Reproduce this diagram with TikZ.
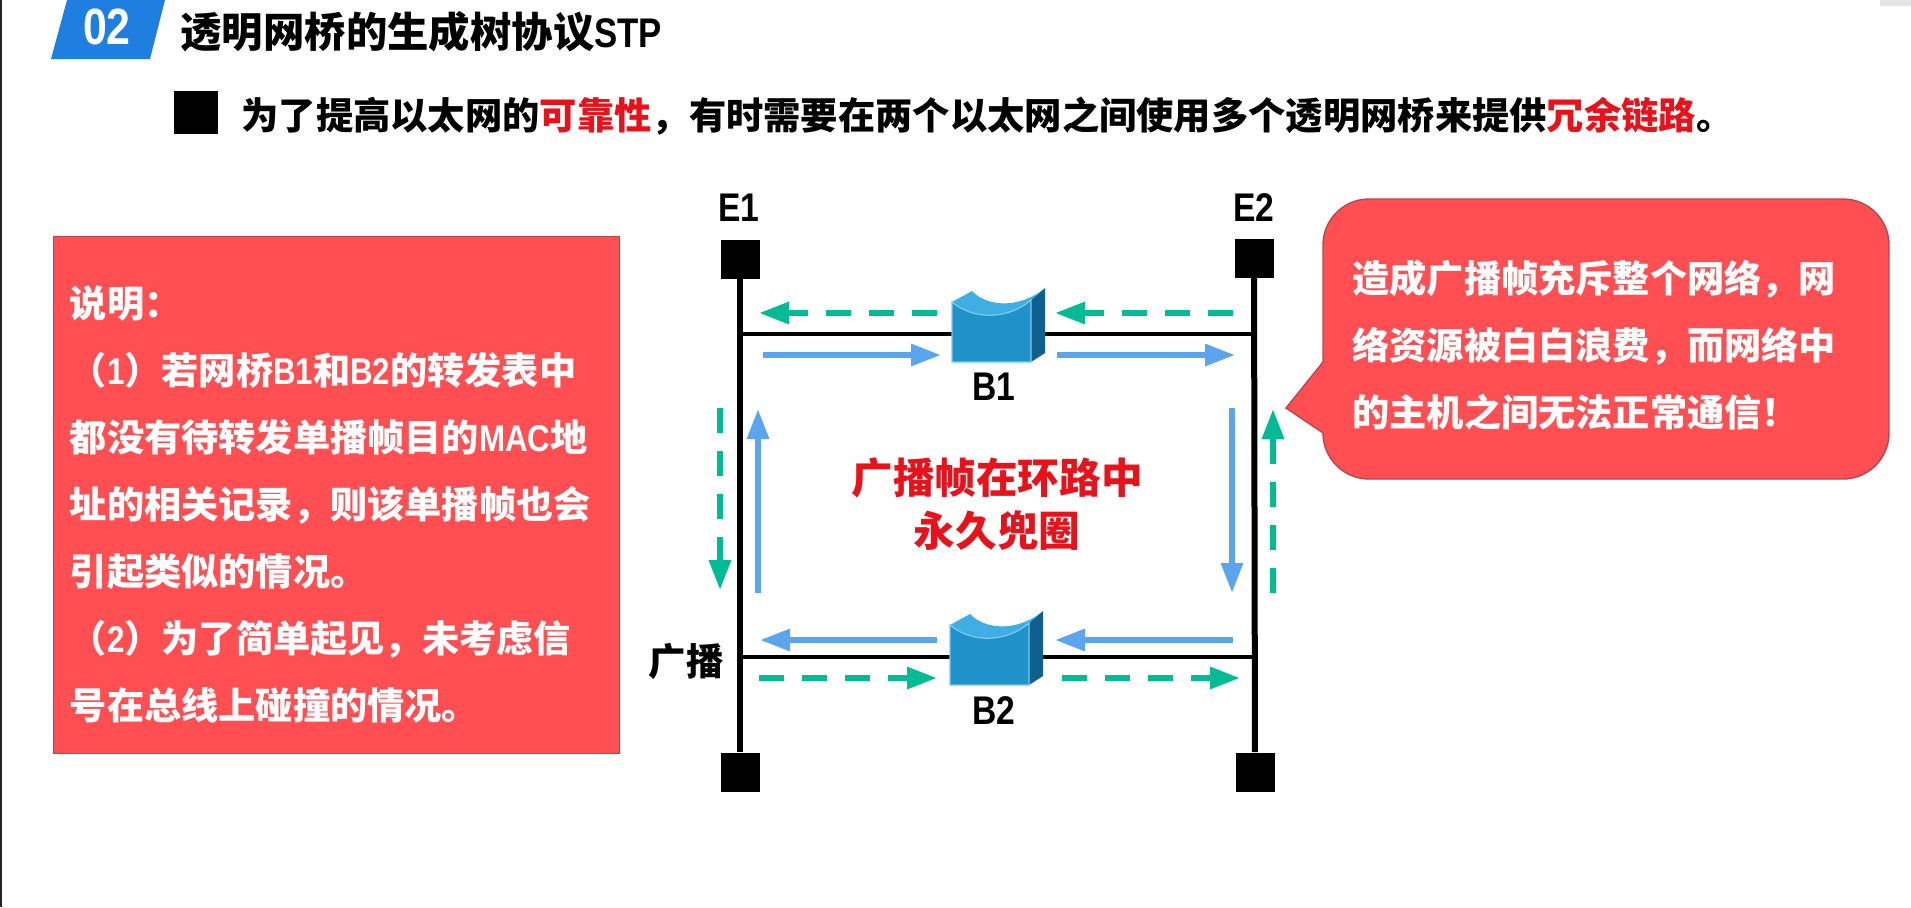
\documentclass[tikz,border=0pt]{standalone}
\usepackage{fontspec}
\setmainfont{Noto Sans CJK SC}
\newfontfamily\latinfont[FakeStretch=0.84]{Liberation Sans}
\usetikzlibrary{arrows.meta,positioning,calc}
\definecolor{slidered}{HTML}{FF4F53}
\definecolor{sliderededge}{HTML}{B5484C}
\definecolor{titleblue}{HTML}{1F7FE0}
\definecolor{flowblue}{HTML}{5BA5EE}
\definecolor{flowgreen}{HTML}{00BB94}
\definecolor{hotred}{HTML}{E8121A}
\definecolor{bridgefront}{HTML}{1F92C9}
\definecolor{bridgeside}{HTML}{0F5F8F}
\definecolor{bridgetop}{HTML}{3FAEE3}
\definecolor{bridgeedge}{HTML}{7CCBEF}
\newcommand{\la}[1]{{\latinfont #1}}
\newcommand{\fsize}[2]{\fontsize{#1}{#2}\selectfont\bfseries}
\tikzset{
  endcap/.style={fill=black, minimum width=19.5pt, minimum height=19.5pt, inner sep=0pt},
  busline/.style={line width=3pt, black},
  linkline/.style={line width=2pt, black},
  blueflow/.style={line width=3pt, flowblue, -{Triangle[length=15pt,width=10.5pt]}},
  greenflow/.style={line width=3pt, flowgreen, dash pattern=on 12.5pt off 9pt, -{Triangle[length=15pt,width=10.5pt]}},
  buslabel/.style={inner sep=0pt, font=\fsize{20}{22}\latinfont},
  bridgebox/.style={minimum width=46pt, minimum height=37pt, inner sep=0pt},
  redtext/.style={inner sep=0pt, text=white, align=left, font=\fsize{18.6}{33.5}},
  bridgeicon/.pic={
    \fill[bridgefront] (-46,-32)
      .. controls (-25,-14) and (10,-14) .. (33,-34) -- (33,28) -- (-46,28) -- cycle;
    \fill[bridgeside] (33,-34) -- (47,-46) -- (47,19) -- (33,28) -- cycle;
    \fill[bridgetop] (-46,-32) -- (-26,-43)
      .. controls (-12,-28) and (20,-24) .. (47,-46) -- (33,-34)
      .. controls (10,-14) and (-25,-14) .. (-46,-32) -- cycle;
    \draw[line width=.6pt, bridgeedge] (-46,-32)
      .. controls (-25,-14) and (10,-14) .. (33,-34) -- (33,28) -- (-46,28) -- cycle;
  }
}
\begin{document}
\begin{tikzpicture}[x=0.5pt, y=-0.5pt, >=Latex]
\useasboundingbox (0,0) rectangle (1911,907);
\fill[black!85] (0,0) rectangle (2,907);
\fill[black!10] (1880,0) rectangle (1911,6);

% Top: section heading
\fill[titleblue] (67,0) -- (165,0) -- (150,59) -- (51,59) -- cycle;
\node[inner sep=0pt, text=white, font=\fsize{25.5}{28}\latinfont] (secnum) at (107,27) {02};
\node[anchor=west, inner sep=0pt, font=\fsize{20.7}{24}] (title) at (180,32) {透明网桥的生成树协议\la{STP}};
\node[fill=black, minimum width=22pt, minimum height=21.5pt, inner sep=0pt] (bullet) at (196,112) {};
\node[anchor=west, inner sep=0pt, font=\fsize{18.65}{24}] (intro) at (241,116)
  {为了提高以太网的\textcolor{hotred}{可靠性}，有时需要在两个以太网之间使用多个透明网桥来提供\textcolor{hotred}{冗余链路}。};

% Left: red note
\node[draw=sliderededge, line width=.7pt, fill=slidered, anchor=north west, inner sep=0pt,
  minimum width=283pt, minimum height=258.5pt] (note) at (53,236) {};
\node[redtext, anchor=north west] (notetext) at (69.5,285) {说明：\\
  （\la{1}）若网桥\la{B1}和\la{B2}的转发表中\\
  都没有待转发单播帧目的\la{MAC}地\\
  址的相关记录，则该单播帧也会\\
  引起类似的情况。\\
  （\la{2}）为了简单起见，未考虑信\\
  号在总线上碰撞的情况。};

% Middle: the two segments
\node[endcap] (e1top) at (740,259) {};
\node[endcap] (e1bot) at (740,772) {};
\node[endcap] (e2top) at (1254,258) {};
\node[endcap] (e2bot) at (1255,772) {};
\draw[busline] (e1top) -- (e1bot);
\draw[busline] (e2top) -- (e2bot);
\node[buslabel] (e1name) at (739,208) {E1};
\node[buslabel] (e2name) at (1254,208) {E2};
\node[inner sep=0pt, font=\fsize{18.7}{20}, anchor=east] (bcast) at (724,661) {广播};

\node[bridgebox] (b1) at (998,334) {};
\node[bridgebox] (b2) at (996,657) {};
\draw[linkline] (e1top |- b1.west) -- (b1.west);
\draw[linkline] (b1.east) -- (e2top |- b1.east);
\draw[linkline] (e1top |- b2.west) -- (b2.west);
\draw[linkline] (b2.east) -- (e2top |- b2.east);
\pic at (b1) {bridgeicon};
\pic at (b2) {bridgeicon};
\node[buslabel] (b1name) at (994,387) {B1};
\node[buslabel] (b2name) at (994,711) {B2};

% Flow arrows round the loop
\coordinate (ga1) at (937,313); \coordinate (ga2) at (759,313);
\coordinate (gb1) at (1233,313); \coordinate (gb2) at (1055,313);
\coordinate (ba1) at (763,355); \coordinate (ba2) at (941,355);
\coordinate (bb1) at (1057,355); \coordinate (bb2) at (1235,355);
\coordinate (bc1) at (937,640); \coordinate (bc2) at (760,640);
\coordinate (bd1) at (1233,640); \coordinate (bd2) at (1055,640);
\coordinate (gc1) at (759,678); \coordinate (gc2) at (937,678);
\coordinate (gd1) at (1062,678); \coordinate (gd2) at (1240,678);
\coordinate (gv1) at (720,408); \coordinate (gv2) at (720,590);
\coordinate (bv1) at (758,593); \coordinate (bv2) at (758,409);
\coordinate (bw1) at (1232,408); \coordinate (bw2) at (1232,593);
\coordinate (gw1) at (1273,593); \coordinate (gw2) at (1273,409);
\draw[greenflow] (ga1) -- (ga2);
\draw[greenflow] (gb1) -- (gb2);
\draw[blueflow] (ba1) -- (ba2);
\draw[blueflow] (bb1) -- (bb2);
\draw[blueflow] (bc1) -- (bc2);
\draw[blueflow] (bd1) -- (bd2);
\draw[greenflow] (gc1) -- (gc2);
\draw[greenflow] (gd1) -- (gd2);
\draw[greenflow] (gv1) -- (gv2);
\draw[blueflow] (bv1) -- (bv2);
\draw[blueflow] (bw1) -- (bw2);
\draw[greenflow] (gw1) -- (gw2);

\node[inner sep=0pt, align=center, text=hotred, font=\fsize{20.8}{26.5}] (loopnote) at (997,504)
  {广播帧在环路中\\永久兜圈};

% Right: callout
\draw[sliderededge, line width=.7pt, fill=slidered] (1323,362) -- (1323,245)
  arc[start angle=180, end angle=270, radius=46] -- (1843,199)
  arc[start angle=270, end angle=360, radius=46] -- (1889,433)
  arc[start angle=0, end angle=90, radius=46] -- (1369,479)
  arc[start angle=90, end angle=180, radius=46] -- (1286,408) -- cycle;
\node[redtext, anchor=north west] (calltext) at (1352,260) {造成广播帧充斥整个网络，网\\
  络资源被白白浪费，而网络中\\
  的主机之间无法正常通信！};
\end{tikzpicture}
\end{document}
